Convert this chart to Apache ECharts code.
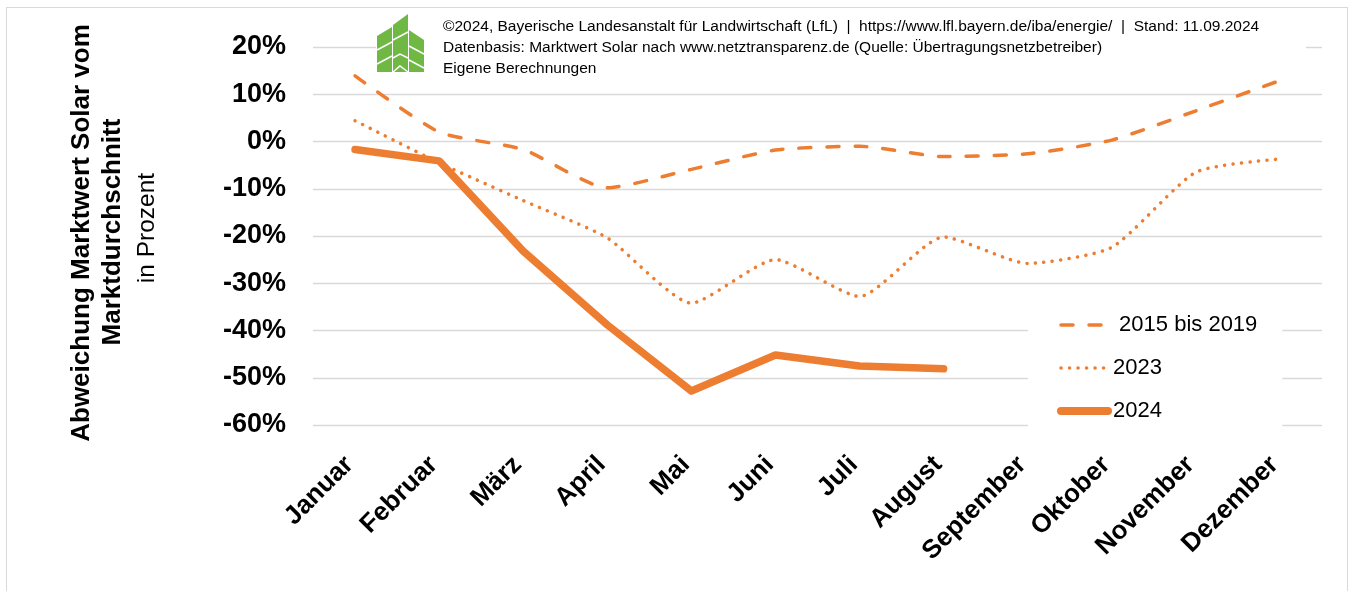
<!DOCTYPE html>
<html>
<head>
<meta charset="utf-8">
<script src="https://cdn.jsdelivr.net/npm/echarts@6/dist/echarts.min.js"></script>
<style>
  html, body { margin: 0; padding: 0; background: #fff; }
  #frame { position: absolute; left: 6px; top: 7px; width: 1340px; height: 600px; border: 1px solid #d9d9d9; }
  #chart { position: absolute; left: 0; top: 0; width: 1354px; height: 591px; }
</style>
</head>
<body>
<div id="frame"></div>
<div id="chart"></div>
<script>
// Monate
const months = ['Januar', 'Februar', 'März', 'April', 'Mai', 'Juni', 'Juli', 'August', 'September', 'Oktober', 'November', 'Dezember']

// Abweichung in Prozent
const avg2015to2019 = [13.9, 2.0, -1.7, -9.8, -5.9, -1.8, -1.0, -3.2, -2.6, 0.3, 6.5, 12.9]
const year2023 = [4.4, -4.5, -12.5, -20.4, -34.2, -25.0, -32.8, -20.2, -25.8, -22.4, -6.5, -3.7]
const year2024 = [-1.7, -4.1, -23.2, -38.8, -52.8, -45.2, -47.5, -48.1]

const yTicks = [-60, -50, -40, -30, -20, -10, 0, 10, 20]

const headerLines = [
  '©2024, Bayerische Landesanstalt für Landwirtschaft (LfL)  |  https://www.lfl.bayern.de/iba/energie/  |  Stand: 11.09.2024',
  'Datenbasis: Marktwert Solar nach www.netztransparenz.de (Quelle: Übertragungsnetzbetreiber)',
  'Eigene Berechnungen'
]

const orange = '#ed7d31'
const green = '#70b844'
const font = '"Liberation Sans", Arial, sans-serif'

const chart = echarts.init(document.getElementById('chart'))

const logo = [
  { type: 'polygon', shape: { points: [[0, 22], [15, 13], [15, 58], [0, 58]] } },
  { type: 'polygon', shape: { points: [[16, 11], [31, 0], [31, 58], [16, 58]] } },
  { type: 'polygon', shape: { points: [[32, 16], [47, 26], [47, 58], [32, 58]] } }
].map(p => ({ ...p, x: 377, y: 14, style: { fill: green } }))

const logoLines = [
  [[0, 36], [15, 28]], [[0, 50], [15, 42]],
  [[16, 26], [31, 18]], [[16, 44], [23, 40], [31, 44]], [[16, 58], [23, 52], [31, 58]],
  [[32, 32], [47, 40]], [[32, 46], [47, 54]]
].map(pts => ({ type: 'polyline', x: 377, y: 14, shape: { points: pts }, style: { stroke: '#fff', lineWidth: 1.5, fill: null } }))

const option = {
  animation: false,
  grid: { left: 313, right: 32, top: 47, bottom: 166 },
  xAxis: {
    type: 'category',
    data: months,
    boundaryGap: true,
    axisLine: { show: false },
    axisTick: { show: false },
    axisLabel: {
      rotate: 45,
      margin: 30,
      padding: [0, 8, 0, 0],
      fontSize: 26,
      fontWeight: 'bold',
      fontFamily: font,
      color: '#000'
    }
  },
  yAxis: {
    type: 'value',
    min: -60,
    max: 20,
    interval: 10,
    axisLine: { show: false },
    axisTick: { show: false },
    splitLine: { lineStyle: { color: '#d9d9d9', width: 1.3 } },
    axisLabel: {
      margin: 27,
      fontSize: 27,
      fontWeight: 'bold',
      fontFamily: font,
      color: '#000',
      formatter: v => yTicks.includes(v) ? v + '%' : ''
    }
  },
  legend: {
    orient: 'vertical',
    left: 1028,
    top: 302,
    padding: [12, 25, 12, 29],
    backgroundColor: '#fff',
    itemWidth: 47,
    itemHeight: 14,
    itemGap: 21,
    itemStyle: { opacity: 0 },
    textStyle: { fontSize: 22, fontFamily: font, color: '#000' },
    formatter: name => name === '2015 bis 2019' ? ' ' + name : name,
    data: [
      { name: '2015 bis 2019', lineStyle: { width: 3.5 } },
      { name: '2023', lineStyle: { width: 3.5 } },
      { name: '2024', lineStyle: { width: 8 } }
    ]
  },
  series: [
    {
      name: '2015 bis 2019',
      type: 'line',
      data: avg2015to2019,
      smooth: 0.2,
      symbol: 'none',
      lineStyle: { color: orange, width: 3.5, type: [12, 16], cap: 'round' },
      itemStyle: { color: orange }
    },
    {
      name: '2023',
      type: 'line',
      data: year2023,
      smooth: 0.2,
      symbol: 'none',
      lineStyle: { color: orange, width: 3.5, type: [0.1, 8.4], cap: 'round' },
      itemStyle: { color: orange }
    },
    {
      name: '2024',
      type: 'line',
      data: year2024,
      symbol: 'none',
      lineStyle: { color: orange, width: 7.5, cap: 'round', join: 'round' },
      itemStyle: { color: orange }
    }
  ],
  graphic: [
    { type: 'rect', shape: { x: 376, y: 13, width: 930, height: 62 }, style: { fill: '#fff' }, z: 1 },
    ...logo.map(g => ({ ...g, z: 2 })),
    ...logoLines.map(g => ({ ...g, z: 3 })),
    ...headerLines.map((t, i) => ({
      type: 'text', x: 443, y: 27 + i * 21, z: 3,
      style: { text: t, fontSize: 15.5, fontFamily: font, fill: '#000', textVerticalAlign: 'middle' }
    })),
    {
      type: 'text', x: 82, y: 233, rotation: Math.PI / 2,
      style: { text: 'Abweichung Marktwert Solar vom', fontSize: 26, fontWeight: 'bold', fontFamily: font, fill: '#000', textAlign: 'center', textVerticalAlign: 'middle' }
    },
    {
      type: 'text', x: 113, y: 232, rotation: Math.PI / 2,
      style: { text: 'Marktdurchschnitt', fontSize: 26, fontWeight: 'bold', fontFamily: font, fill: '#000', textAlign: 'center', textVerticalAlign: 'middle' }
    },
    {
      type: 'text', x: 147, y: 228, rotation: Math.PI / 2,
      style: { text: 'in Prozent', fontSize: 24.5, fontFamily: font, fill: '#000', textAlign: 'center', textVerticalAlign: 'middle' }
    }
  ]
}

chart.setOption(option)
</script>
</body>
</html>
